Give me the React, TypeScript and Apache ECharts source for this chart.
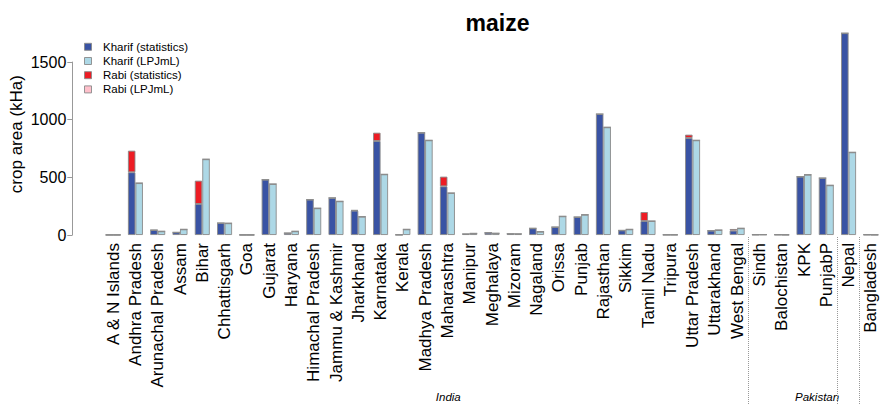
import React, { useEffect, useRef } from "react";
import * as echarts from "echarts";

const categories = [
  "A & N Islands", "Andhra Pradesh", "Arunachal Pradesh", "Assam", "Bihar", "Chhattisgarh", "Goa",
  "Gujarat", "Haryana", "Himachal Pradesh", "Jammu & Kashmir", "Jharkhand", "Karnataka", "Kerala",
  "Madhya Pradesh", "Maharashtra", "Manipur", "Meghalaya", "Mizoram", "Nagaland", "Orissa", "Punjab",
  "Rajasthan", "Sikkim", "Tamil Nadu", "Tripura", "Uttar Pradesh", "Uttarakhand", "West Bengal",
  "Sindh", "Balochistan", "KPK", "PunjabP", "Nepal", "Bangladesh",
];

const kharifStatistics = [
  1, 544, 43, 23, 269, 104, 1, 480, 17, 307, 322, 211, 815, 2, 887, 422, 9, 20, 11, 58, 69, 156,
  1049, 40, 121, 2, 841, 38, 38, 3, 3, 506, 494, 1750, 3,
];
const rabiStatistics = [
  0, 187, 0, 0, 202, 0, 0, 0, 0, 0, 0, 5, 72, 0, 0, 84, 0, 0, 0, 0, 0, 0,
  0, 0, 78, 0, 29, 0, 14, 0, 0, 0, 0, 0, 0,
];
const kharifLPJmL = [
  1, 450, 32, 49, 657, 102, 1, 442, 32, 232, 292, 159, 526, 49, 821, 364, 14, 15, 10, 29, 162, 176,
  934, 49, 121, 2, 821, 43, 58, 4, 2, 523, 431, 717, 2,
];
const rabiLPJmL = [
  0, 0, 0, 0, 0, 0, 0, 0, 0, 0, 0, 0, 0, 0, 0, 0, 0, 0, 0, 0, 0, 0,
  0, 0, 0, 0, 0, 0, 0, 0, 0, 0, 0, 0, 0,
];
const yTicks = [0, 500, 1000, 1500];
const separatorIndices = [29, 33, 34];
const legendNames = ["Kharif (statistics)", "Kharif (LPJmL)", "Rabi (statistics)", "Rabi (LPJmL)"];
const legendColors = ["#3953a4", "#add8e6", "#ed1c24", "#ffc0cb"];

const FONT = "Liberation Sans, Arial, Helvetica, sans-serif";
const GRID_LEFT = 101.3;
const GRID_WIDTH = 782.6;
const GRID_BOTTOM = 169;
const Y_MAX = 1750;
const PLOT_H = 201.8;

export default function App() {
  const ref = useRef<HTMLDivElement>(null);
  useEffect(() => {
    if (!ref.current) return;
    const chart = echarts.init(ref.current, null, { renderer: "svg" });
    const border = { borderColor: "#8a8a8a", borderWidth: 0.9 };
    const axisTop = 235 - (PLOT_H * yTicks[yTicks.length - 1]) / Y_MAX;
    const legendGraphics: any[] = [];
    legendNames.forEach((name, i) => {
      const cy = 46.8 + i * 14.2;
      legendGraphics.push({
        type: "rect",
        shape: { x: 84.5, y: cy - 3.5, width: 7, height: 7 },
        style: { fill: legendColors[i], stroke: "#8a8a8a", lineWidth: 0.9 },
      });
      legendGraphics.push({
        type: "text",
        x: 103,
        y: cy,
        style: {
          text: name, fontFamily: FONT, fontSize: 11.5, fill: "#000",
          textAlign: "left", textVerticalAlign: "middle",
        },
      });
    });
    chart.setOption({
      animation: false,
      textStyle: { fontFamily: FONT },
      title: {
        text: "maize",
        left: 492.5,
        top: 6,
        textAlign: "center",
        textStyle: { fontFamily: FONT, fontSize: 23, fontWeight: "bold", color: "#000" },
      },
      grid: [
        { left: GRID_LEFT, width: GRID_WIDTH, top: 235 - PLOT_H, bottom: GRID_BOTTOM },
        { left: GRID_LEFT, width: GRID_WIDTH, top: axisTop, bottom: GRID_BOTTOM },
        { left: GRID_LEFT + 1.5, width: GRID_WIDTH, top: 237, bottom: 0 },
      ],
      xAxis: [
        {
          gridIndex: 0,
          type: "category",
          data: categories,
          axisLine: { show: false },
          axisTick: { show: false },
          axisLabel: { interval: 0, rotate: 90, margin: 8, fontSize: 17, color: "#000", fontFamily: FONT },
        },
        { gridIndex: 1, type: "category", data: categories, show: false },
        {
          gridIndex: 2,
          type: "category",
          data: categories,
          axisLine: { show: false },
          axisTick: { show: false },
          axisLabel: { show: false },
          splitLine: {
            show: true,
            interval: (index: number) => separatorIndices.indexOf(index) >= 0,
            lineStyle: { type: "dotted", color: "#999", width: 1 },
          },
        },
      ],
      yAxis: [
        {
          gridIndex: 0,
          type: "value",
          min: 0,
          max: Y_MAX,
          offset: 29,
          axisLine: { show: false },
          axisTick: { show: false },
          axisLabel: { show: false },
          splitLine: { show: false },
          name: "crop area (kHa)",
          nameLocation: "middle",
          nameGap: 48,
          nameTextStyle: { fontFamily: FONT, fontSize: 17, color: "#000" },
        },
        {
          gridIndex: 1,
          type: "value",
          min: yTicks[0],
          max: yTicks[yTicks.length - 1],
          interval: yTicks[1] - yTicks[0],
          offset: 29,
          axisLine: { show: true, lineStyle: { color: "#999", width: 1 } },
          axisTick: { show: true, length: 5, lineStyle: { color: "#999" } },
          axisLabel: {
            fontSize: 16, margin: 6, color: "#000", fontFamily: FONT,
            formatter: (v: number) => String(v),
          },
          splitLine: { show: false },
        },
        { gridIndex: 2, type: "value", show: false, splitLine: { show: false } },
      ],
      series: [
        {
          name: legendNames[0], type: "bar", stack: "stat", data: kharifStatistics,
          barWidth: 7.5, barGap: "0%", itemStyle: { color: legendColors[0], ...border },
        },
        {
          name: legendNames[2], type: "bar", stack: "stat", data: rabiStatistics,
          barWidth: 7.5, barGap: "0%", itemStyle: { color: legendColors[2], ...border },
        },
        {
          name: legendNames[1], type: "bar", stack: "lpj", data: kharifLPJmL,
          barWidth: 7.5, barGap: "0%", itemStyle: { color: legendColors[1], ...border },
        },
        {
          name: legendNames[3], type: "bar", stack: "lpj", data: rabiLPJmL,
          barWidth: 7.5, barGap: "0%", itemStyle: { color: legendColors[3], ...border },
        },
      ],
      graphic: [
        ...legendGraphics,
        {
          type: "text", left: 435.8, top: 391, style: {
            text: "India", fontFamily: FONT, fontSize: 11.5, fontStyle: "italic", fill: "#000", textAlign: "center",
          },
        },
        {
          type: "text", left: 795, top: 391, style: {
            text: "Pakistan", fontFamily: FONT, fontSize: 11.5, fontStyle: "italic", fill: "#000", textAlign: "center",
          },
        },
      ],
    });
    return () => chart.dispose();
  }, []);
  return (
    <div
      ref={ref}
      style={{ position: "absolute", left: 0, top: 0, width: 882, height: 404, background: "#fff" }}
    />
  );
}
